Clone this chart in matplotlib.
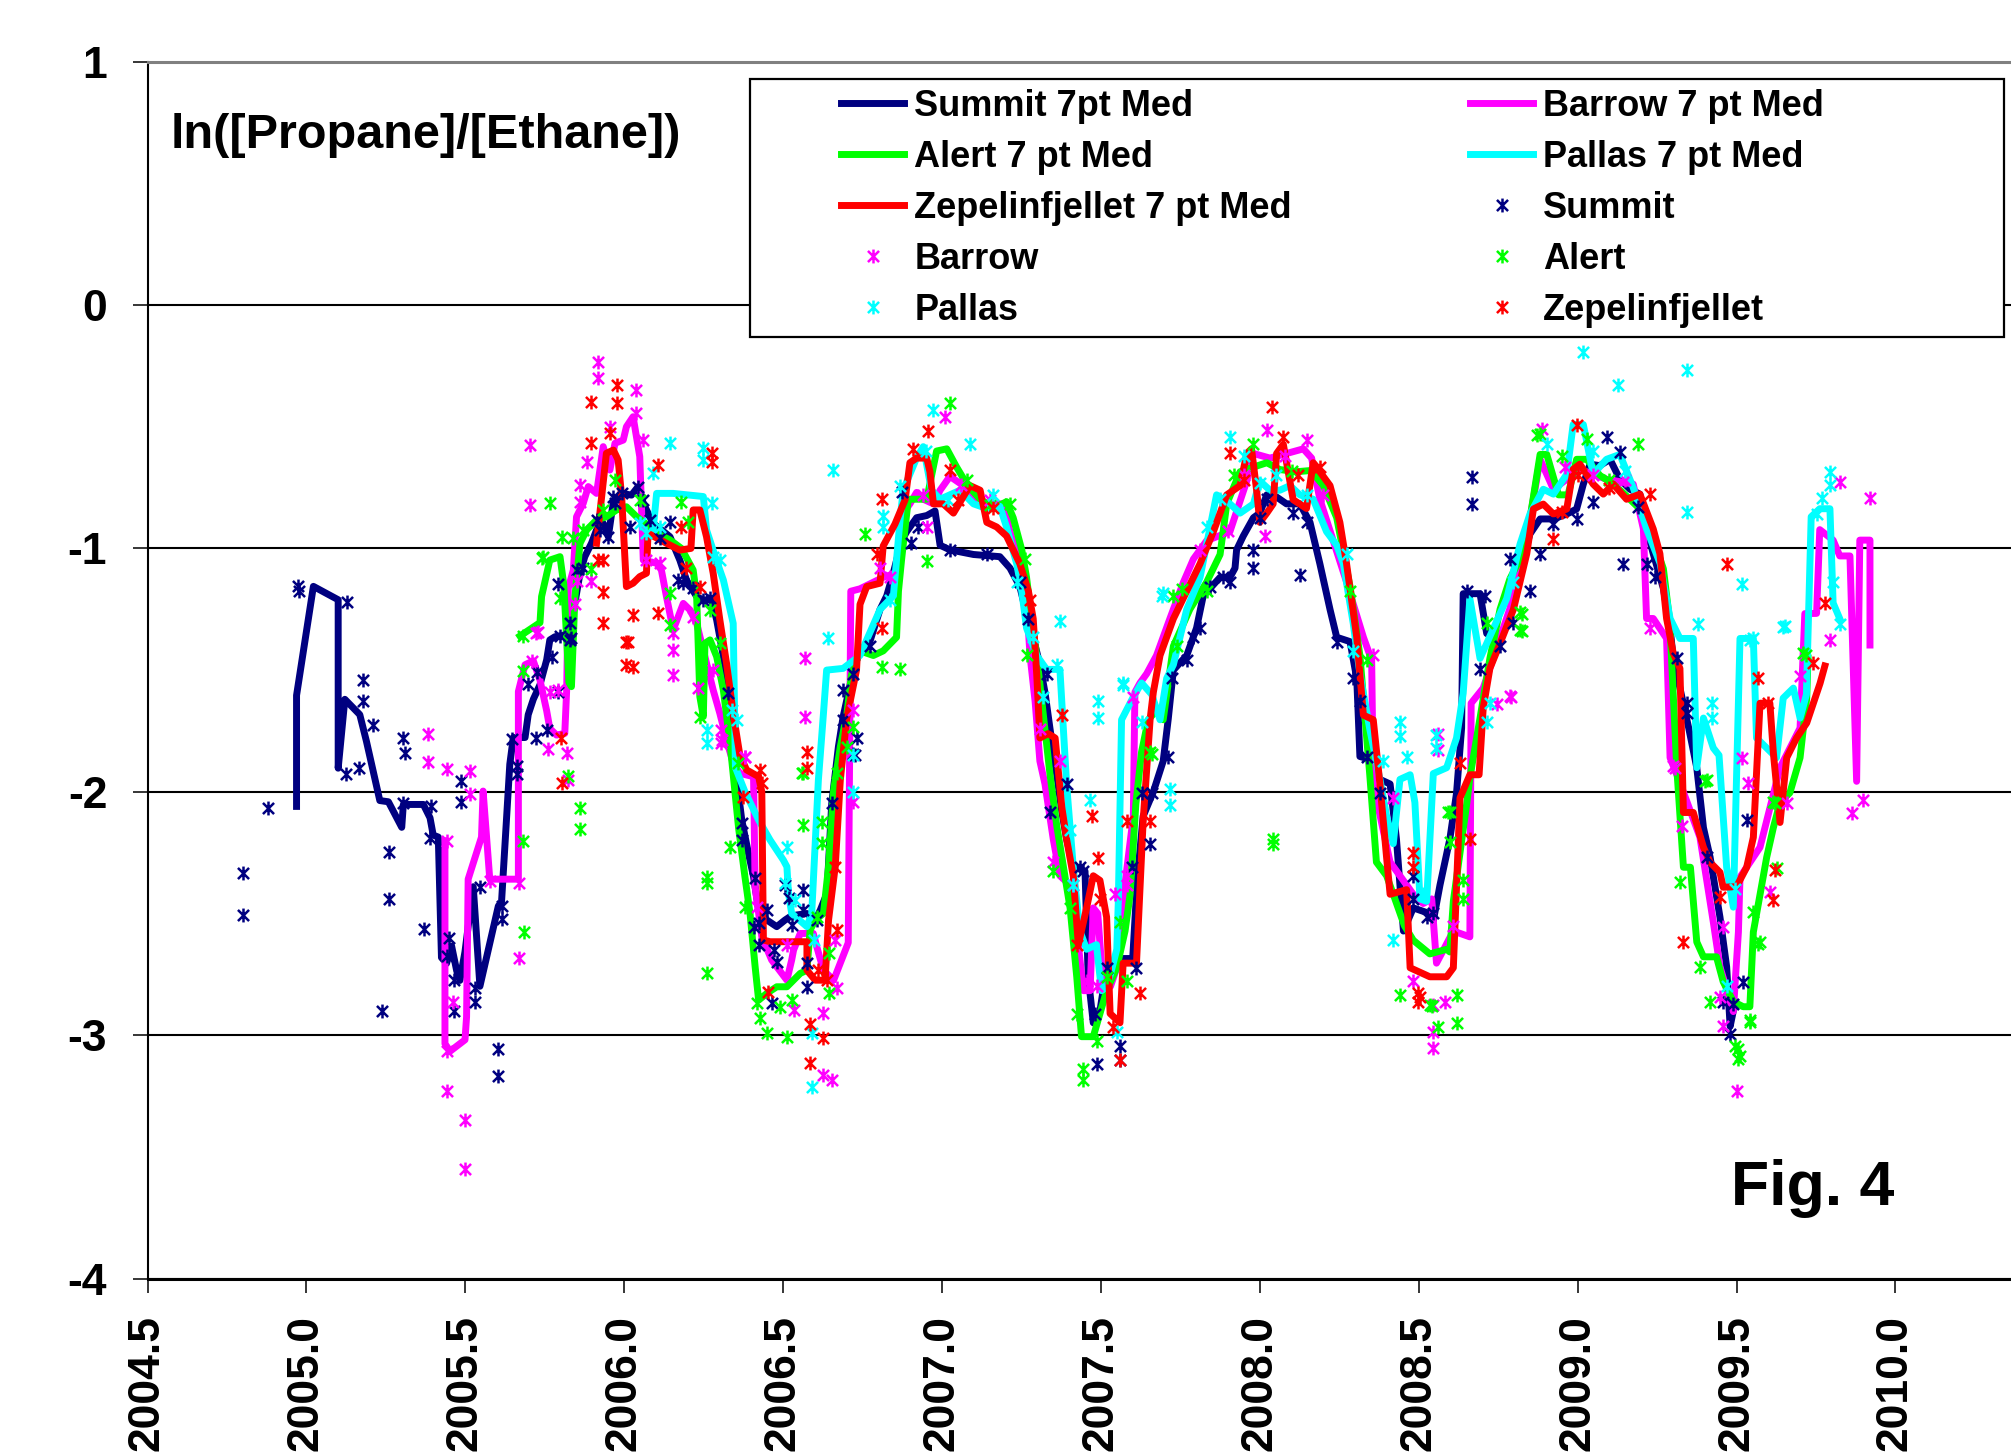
import matplotlib
matplotlib.use('Agg')
import matplotlib.pyplot as plt
from matplotlib.path import Path
from matplotlib.patches import Rectangle

plt.rcParams['font.family'] = ['Liberation Sans', 'DejaVu Sans']
plt.rcParams['font.weight'] = 'bold'
plt.rcParams['axes.unicode_minus'] = False

# ---------------- data: 7-point running medians ----------------
summit_med_x = [2004.969, 2004.969, 2005.022, 2005.100, 2005.100, 2005.121, 2005.168, 2005.189, 2005.231, 2005.258,
                2005.300, 2005.305, 2005.368, 2005.389, 2005.399, 2005.415, 2005.425, 2005.441, 2005.457, 2005.473,
                2005.483, 2005.499, 2005.525, 2005.546, 2005.604, 2005.614, 2005.640, 2005.651, 2005.688, 2005.698,
                2005.714, 2005.735, 2005.756, 2005.766, 2005.782, 2005.813, 2005.834, 2005.850, 2005.861, 2005.876,
                2005.897, 2005.913, 2005.934, 2005.950, 2005.965, 2005.992, 2006.023, 2006.044, 2006.060, 2006.091,
                2006.144, 2006.175, 2006.196, 2006.228, 2006.249, 2006.275, 2006.291, 2006.312, 2006.333, 2006.354,
                2006.370, 2006.391, 2006.407, 2006.423, 2006.449, 2006.480, 2006.506, 2006.522, 2006.543, 2006.575,
                2006.601, 2006.617, 2006.638, 2006.653, 2006.674, 2006.689, 2006.721, 2006.742, 2006.773, 2006.805,
                2006.826, 2006.847, 2006.873, 2006.889, 2006.920, 2006.952, 2006.978, 2006.994, 2007.025, 2007.099,
                2007.182, 2007.214, 2007.245, 2007.266, 2007.287, 2007.308, 2007.324, 2007.340, 2007.361, 2007.377,
                2007.392, 2007.413, 2007.450, 2007.460, 2007.476, 2007.497, 2007.518, 2007.534, 2007.560, 2007.600,
                2007.615, 2007.633, 2007.665, 2007.696, 2007.712, 2007.728, 2007.770, 2007.801, 2007.822, 2007.875,
                2007.906, 2007.922, 2007.927, 2007.948, 2007.980, 2008.000, 2008.022, 2008.053, 2008.084, 2008.126,
                2008.158, 2008.189, 2008.221, 2008.242, 2008.284, 2008.305, 2008.315, 2008.341, 2008.378, 2008.410,
                2008.430, 2008.452, 2008.483, 2008.525, 2008.546, 2008.567, 2008.598, 2008.619, 2008.635, 2008.640,
                2008.693, 2008.714, 2008.756, 2008.787, 2008.819, 2008.850, 2008.882, 2008.924, 2008.966, 2008.997,
                2009.018, 2009.039, 2009.070, 2009.102, 2009.133, 2009.165, 2009.196, 2009.217, 2009.238, 2009.270,
                2009.291, 2009.301, 2009.322, 2009.350, 2009.375, 2009.396, 2009.417, 2009.448, 2009.469, 2009.480,
                2009.490]
summit_med_y = [-2.060, -1.604, -1.156, -1.211, -1.903, -1.620, -1.683, -1.793, -2.036, -2.041,
                -2.146, -2.052, -2.052, -2.107, -2.178, -2.186, -2.681, -2.705, -2.634, -2.736,
                -2.775, -2.657, -2.390, -2.799, -2.469, -2.453, -1.887, -1.777, -1.777, -1.683,
                -1.620, -1.560, -1.458, -1.376, -1.363, -1.356, -1.308, -1.185, -1.102, -1.034,
                -0.979, -0.924, -0.897, -0.952, -0.815, -0.774, -0.781, -0.746, -0.815, -0.897,
                -0.952, -1.048, -1.130, -1.198, -1.212, -1.212, -1.294, -1.445, -1.609, -1.950,
                -2.116, -2.253, -2.349, -2.486, -2.527, -2.554, -2.527, -2.513, -2.506, -2.500,
                -2.527, -2.486, -2.417, -2.048, -1.815, -1.691, -1.500, -1.421, -1.383, -1.251,
                -1.195, -1.100, -0.968, -0.931, -0.874, -0.865, -0.846, -0.987, -1.006, -1.025,
                -1.034, -1.081, -1.157, -1.270, -1.365, -1.478, -1.591, -1.742, -1.930, -2.081,
                -2.194, -2.308, -2.326, -2.760, -2.949, -2.900, -2.723, -2.704, -2.685, -2.685,
                -2.350, -2.100, -2.000, -1.874, -1.700, -1.500, -1.440, -1.327, -1.195, -1.119,
                -1.119, -1.081, -1.006, -0.949, -0.874, -0.855, -0.780, -0.789, -0.817, -0.817,
                -0.893, -1.063, -1.251, -1.365, -1.383, -1.534, -1.855, -1.864, -1.949, -1.968,
                -2.194, -2.572, -2.477, -2.496, -2.530, -2.383, -2.194, -2.006, -1.738, -1.186,
                -1.186, -1.350, -1.370, -1.288, -1.084, -0.941, -0.879, -0.879, -0.859, -0.838,
                -0.736, -0.654, -0.660, -0.634, -0.716, -0.757, -0.777, -0.920, -1.022, -1.165,
                -1.329, -1.452, -1.574, -1.740, -1.901, -2.147, -2.269, -2.515, -2.719, -2.964,
                -2.900]

barrow_med_x = [2005.436, 2005.436, 2005.452, 2005.499, 2005.504, 2005.509, 2005.551, 2005.556, 2005.577, 2005.667,
                2005.667, 2005.688, 2005.714, 2005.735, 2005.756, 2005.766, 2005.787, 2005.813, 2005.819, 2005.824,
                2005.840, 2005.850, 2005.871, 2005.887, 2005.913, 2005.934, 2005.955, 2005.971, 2005.997, 2006.007,
                2006.028, 2006.049, 2006.060, 2006.102, 2006.117, 2006.133, 2006.154, 2006.186, 2006.207, 2006.228,
                2006.259, 2006.280, 2006.301, 2006.322, 2006.343, 2006.364, 2006.407, 2006.412, 2006.433, 2006.464,
                2006.512, 2006.527, 2006.533, 2006.554, 2006.595, 2006.606, 2006.627, 2006.659, 2006.705, 2006.713,
                2006.742, 2006.815, 2006.857, 2006.878, 2006.899, 2006.920, 2006.941, 2006.973, 2006.994, 2007.025,
                2007.067, 2007.109, 2007.151, 2007.193, 2007.214, 2007.245, 2007.266, 2007.277, 2007.293, 2007.308,
                2007.324, 2007.350, 2007.371, 2007.403, 2007.424, 2007.445, 2007.466, 2007.476, 2007.490, 2007.508,
                2007.530, 2007.550, 2007.570, 2007.602, 2007.607, 2007.623, 2007.644, 2007.675, 2007.717, 2007.760,
                2007.791, 2007.833, 2007.906, 2007.959, 2007.980, 2008.032, 2008.084, 2008.137, 2008.163, 2008.189,
                2008.273, 2008.326, 2008.352, 2008.357, 2008.410, 2008.483, 2008.514, 2008.541, 2008.556, 2008.609,
                2008.661, 2008.665, 2008.703, 2008.787, 2008.850, 2008.882, 2008.924, 2009.007, 2009.091, 2009.175,
                2009.207, 2009.217, 2009.238, 2009.280, 2009.291, 2009.322, 2009.385, 2009.427, 2009.448, 2009.490,
                2009.506, 2009.511, 2009.532, 2009.574, 2009.637, 2009.700, 2009.715, 2009.752, 2009.762, 2009.804,
                2009.825, 2009.857, 2009.878, 2009.888, 2009.920, 2009.920]
barrow_med_y = [-2.201, -3.035, -3.066, -3.019, -2.925, -2.359, -2.186, -1.997, -2.359, -2.359,
                -1.588, -1.478, -1.462, -1.541, -1.667, -1.740, -1.767, -1.760, -1.582, -1.164,
                -1.089, -0.870, -0.815, -0.746, -0.774, -0.582, -0.678, -0.568, -0.555, -0.500,
                -0.459, -0.623, -1.048, -1.061, -1.089, -1.198, -1.335, -1.226, -1.253, -1.308,
                -1.472, -1.582, -1.678, -1.787, -1.883, -1.924, -1.938, -2.390, -2.596, -2.691,
                -2.774, -2.691, -2.650, -2.582, -2.582, -2.637, -2.733, -2.774, -2.620, -1.176,
                -1.166, -1.119, -1.100, -0.855, -0.817, -0.770, -0.798, -0.817, -0.761, -0.704,
                -0.742, -0.798, -0.817, -0.817, -0.931, -1.063, -1.214, -1.440, -1.629, -1.874,
                -1.968, -2.194, -2.345, -2.383, -2.572, -2.817, -2.817, -2.477, -2.500, -2.817,
                -2.800, -2.723, -2.440, -2.100, -1.591, -1.553, -1.515, -1.440, -1.289, -1.138,
                -1.044, -0.968, -0.931, -0.723, -0.610, -0.629, -0.610, -0.591, -0.629, -0.798,
                -1.138, -1.365, -1.459, -1.968, -2.289, -2.421, -2.459, -2.440, -2.704, -2.572,
                -2.596, -1.636, -1.574, -1.247, -0.879, -0.634, -0.757, -0.675, -0.716, -0.736,
                -0.920, -1.288, -1.288, -1.370, -1.860, -1.962, -2.187, -2.535, -2.719, -2.903,
                -2.576, -2.351, -2.310, -2.228, -1.901, -1.738, -1.268, -1.267, -0.923, -0.966,
                -1.031, -1.031, -1.957, -0.966, -0.966, -1.397]

alert_med_x = [2005.672, 2005.735, 2005.740, 2005.766, 2005.798, 2005.810, 2005.826, 2005.834, 2005.845, 2005.861,
               2005.882, 2005.913, 2005.944, 2005.976, 2006.007, 2006.039, 2006.070, 2006.102, 2006.144, 2006.180,
               2006.217, 2006.228, 2006.238, 2006.249, 2006.254, 2006.270, 2006.291, 2006.312, 2006.333, 2006.360,
               2006.380, 2006.396, 2006.412, 2006.423, 2006.449, 2006.480, 2006.512, 2006.554, 2006.575, 2006.585,
               2006.601, 2006.627, 2006.643, 2006.659, 2006.680, 2006.701, 2006.715, 2006.742, 2006.784, 2006.815,
               2006.857, 2006.863, 2006.873, 2006.894, 2006.952, 2006.983, 2007.015, 2007.046, 2007.080, 2007.120,
               2007.162, 2007.203, 2007.224, 2007.251, 2007.266, 2007.282, 2007.298, 2007.319, 2007.340, 2007.361,
               2007.382, 2007.403, 2007.424, 2007.439, 2007.476, 2007.497, 2007.518, 2007.550, 2007.576, 2007.592,
               2007.610, 2007.628, 2007.649, 2007.675, 2007.696, 2007.728, 2007.780, 2007.833, 2007.875, 2007.896,
               2007.938, 2007.980, 2008.022, 2008.063, 2008.116, 2008.160, 2008.200, 2008.242, 2008.284, 2008.315,
               2008.346, 2008.367, 2008.399, 2008.420, 2008.455, 2008.483, 2008.535, 2008.588, 2008.598, 2008.609,
               2008.630, 2008.651, 2008.661, 2008.693, 2008.724, 2008.756, 2008.787, 2008.819, 2008.850, 2008.882,
               2008.903, 2008.940, 2008.970, 2008.997, 2009.029, 2009.070, 2009.112, 2009.150, 2009.196, 2009.238,
               2009.270, 2009.290, 2009.312, 2009.333, 2009.355, 2009.375, 2009.396, 2009.437, 2009.458, 2009.490,
               2009.521, 2009.542, 2009.553, 2009.595, 2009.616, 2009.637, 2009.668, 2009.700, 2009.721, 2009.725]
alert_med_y = [-1.360, -1.305, -1.198, -1.048, -1.034, -1.150, -1.550, -1.568, -1.198, -0.979,
               -0.924, -0.883, -0.870, -0.842, -0.829, -0.870, -0.900, -0.938, -0.965, -1.000,
               -1.089, -1.198, -1.609, -1.691, -1.390, -1.376, -1.445, -1.582, -1.800, -2.150,
               -2.350, -2.500, -2.719, -2.856, -2.828, -2.801, -2.801, -2.746, -2.733, -2.568,
               -2.527, -2.500, -2.308, -1.993, -1.815, -1.678, -1.520, -1.421, -1.440, -1.421,
               -1.365, -1.176, -1.044, -0.798, -0.798, -0.600, -0.591, -0.666, -0.740, -0.798,
               -0.836, -0.808, -0.874, -1.006, -1.119, -1.289, -1.440, -1.685, -1.930, -2.138,
               -2.308, -2.477, -2.760, -3.006, -3.006, -2.912, -2.817, -2.723, -2.572, -2.421,
               -2.050, -1.836, -1.704, -1.666, -1.704, -1.402, -1.250, -1.138, -1.025, -0.817,
               -0.685, -0.666, -0.648, -0.676, -0.685, -0.680, -0.742, -0.874, -1.157, -1.440,
               -1.930, -2.289, -2.345, -2.421, -2.550, -2.610, -2.666, -2.647, -2.658, -2.450,
               -2.250, -2.050, -1.942, -1.697, -1.452, -1.250, -1.125, -1.043, -0.879, -0.614,
               -0.614, -0.780, -0.780, -0.634, -0.634, -0.700, -0.736, -0.780, -0.838, -0.961,
               -1.084, -1.300, -1.901, -2.310, -2.310, -2.617, -2.678, -2.678, -2.780, -2.862,
               -2.883, -2.883, -2.576, -2.269, -2.147, -2.044, -2.004, -1.860, -1.615, -1.450]

pallas_med_x = [2006.091, 2006.102, 2006.154, 2006.249, 2006.259, 2006.290, 2006.312, 2006.343, 2006.350, 2006.380,
                2006.423, 2006.459, 2006.501, 2006.512, 2006.517, 2006.527, 2006.575, 2006.590, 2006.611, 2006.627,
                2006.637, 2006.689, 2006.742, 2006.763, 2006.805, 2006.847, 2006.868, 2006.878, 2006.920, 2006.941,
                2006.967, 2006.994, 2007.025, 2007.057, 2007.099, 2007.141, 2007.182, 2007.203, 2007.235, 2007.251,
                2007.266, 2007.298, 2007.329, 2007.371, 2007.392, 2007.413, 2007.434, 2007.455, 2007.486, 2007.502,
                2007.520, 2007.550, 2007.555, 2007.565, 2007.602, 2007.628, 2007.660, 2007.686, 2007.707, 2007.728,
                2007.770, 2007.812, 2007.864, 2007.906, 2007.938, 2007.980, 2008.000, 2008.032, 2008.063, 2008.095,
                2008.126, 2008.168, 2008.210, 2008.242, 2008.263, 2008.294, 2008.315, 2008.346, 2008.378, 2008.399,
                2008.420, 2008.441, 2008.473, 2008.488, 2008.504, 2008.525, 2008.546, 2008.588, 2008.619, 2008.640,
                2008.661, 2008.693, 2008.735, 2008.777, 2008.819, 2008.850, 2008.892, 2008.924, 2008.966, 2008.986,
                2009.018, 2009.049, 2009.091, 2009.133, 2009.175, 2009.217, 2009.260, 2009.291, 2009.322, 2009.364,
                2009.375, 2009.396, 2009.427, 2009.445, 2009.469, 2009.490, 2009.511, 2009.553, 2009.563, 2009.626,
                2009.647, 2009.679, 2009.700, 2009.720, 2009.735, 2009.762, 2009.794, 2009.804, 2009.825]
pallas_med_y = [-0.924, -0.774, -0.774, -0.787, -0.924, -1.048, -1.130, -1.308, -1.900, -2.000,
                -2.116, -2.198, -2.281, -2.308, -2.417, -2.500, -2.554, -2.500, -1.952, -1.678,
                -1.500, -1.493, -1.440, -1.376, -1.251, -1.195, -0.883, -0.760, -0.629, -0.582,
                -0.761, -0.798, -0.780, -0.761, -0.817, -0.836, -0.827, -0.912, -1.063, -1.176,
                -1.327, -1.440, -1.497, -1.497, -1.968, -2.308, -2.572, -2.647, -2.628, -2.817,
                -2.800, -2.647, -2.440, -1.704, -1.610, -1.553, -1.600, -1.704, -1.534, -1.478,
                -1.251, -1.119, -0.780, -0.817, -0.855, -0.817, -0.723, -0.761, -0.761, -0.742,
                -0.780, -0.798, -0.931, -0.987, -1.063, -1.308, -1.515, -1.742, -1.949, -2.100,
                -2.213, -1.949, -1.930, -2.044, -2.440, -2.450, -1.925, -1.901, -1.779, -1.595,
                -1.206, -1.452, -1.329, -1.206, -0.982, -0.859, -0.757, -0.777, -0.695, -0.491,
                -0.491, -0.695, -0.634, -0.614, -0.750, -0.920, -1.063, -1.288, -1.370, -1.370,
                -1.901, -1.697, -1.820, -1.850, -2.310, -2.474, -1.370, -1.370, -1.779, -1.860,
                -1.615, -1.574, -1.697, -1.600, -0.870, -0.837, -0.837, -1.224, -1.289]

zep_med_x = [2005.913, 2005.944, 2005.966, 2005.981, 2005.992, 2006.007, 2006.028, 2006.049, 2006.070, 2006.075,
             2006.133, 2006.175, 2006.210, 2006.217, 2006.238, 2006.259, 2006.280, 2006.301, 2006.322, 2006.343,
             2006.364, 2006.385, 2006.423, 2006.433, 2006.438, 2006.459, 2006.575, 2006.575, 2006.601, 2006.632,
             2006.643, 2006.664, 2006.680, 2006.700, 2006.731, 2006.742, 2006.763, 2006.805, 2006.815, 2006.852,
             2006.884, 2006.899, 2006.920, 2006.952, 2006.962, 2006.973, 2007.004, 2007.036, 2007.088, 2007.120,
             2007.141, 2007.172, 2007.203, 2007.245, 2007.272, 2007.287, 2007.298, 2007.308, 2007.334, 2007.356,
             2007.377, 2007.392, 2007.413, 2007.429, 2007.455, 2007.476, 2007.497, 2007.518, 2007.529, 2007.560,
             2007.570, 2007.612, 2007.633, 2007.655, 2007.665, 2007.686, 2007.728, 2007.770, 2007.812, 2007.854,
             2007.896, 2007.938, 2007.959, 2007.974, 2007.990, 2008.000, 2008.022, 2008.042, 2008.053, 2008.074,
             2008.105, 2008.147, 2008.168, 2008.189, 2008.221, 2008.252, 2008.273, 2008.305, 2008.326, 2008.357,
             2008.378, 2008.399, 2008.410, 2008.462, 2008.473, 2008.535, 2008.588, 2008.609, 2008.630, 2008.661,
             2008.690, 2008.703, 2008.724, 2008.756, 2008.798, 2008.840, 2008.861, 2008.892, 2008.924, 2008.966,
             2008.986, 2009.007, 2009.049, 2009.081, 2009.112, 2009.154, 2009.196, 2009.238, 2009.259, 2009.280,
             2009.301, 2009.322, 2009.333, 2009.364, 2009.396, 2009.417, 2009.448, 2009.458, 2009.500, 2009.532,
             2009.553, 2009.574, 2009.605, 2009.616, 2009.637, 2009.658, 2009.689, 2009.721, 2009.763, 2009.778]
zep_med_y = [-0.979, -0.609, -0.596, -0.637, -0.787, -1.157, -1.143, -1.116, -1.102, -0.938,
             -0.979, -1.007, -1.000, -0.842, -0.842, -0.952, -1.102, -1.294, -1.472, -1.678,
             -1.850, -1.910, -1.938, -2.000, -2.609, -2.616, -2.616, -2.733, -2.774, -2.774,
             -2.527, -2.308, -1.952, -1.700, -1.500, -1.230, -1.157, -1.143, -0.990, -0.900,
             -0.800, -0.648, -0.629, -0.629, -0.685, -0.817, -0.817, -0.855, -0.742, -0.761,
             -0.893, -0.912, -0.949, -1.063, -1.176, -1.289, -1.516, -1.779, -1.761, -1.779,
             -2.063, -2.194, -2.345, -2.628, -2.477, -2.345, -2.364, -2.515, -2.911, -2.949,
             -2.704, -2.704, -2.119, -1.700, -1.591, -1.440, -1.289, -1.176, -1.063, -0.931,
             -0.780, -0.742, -0.610, -0.591, -0.761, -0.893, -0.855, -0.817, -0.610, -0.572,
             -0.800, -0.836, -0.648, -0.685, -0.742, -0.893, -1.063, -1.365, -1.685, -1.704,
             -1.968, -2.270, -2.421, -2.402, -2.723, -2.760, -2.760, -2.723, -2.025, -1.930,
             -1.930, -1.656, -1.493, -1.390, -1.251, -1.022, -0.838, -0.818, -0.859, -0.838,
             -0.675, -0.654, -0.736, -0.777, -0.736, -0.798, -0.777, -0.920, -1.022, -1.288,
             -1.431, -1.493, -2.085, -2.085, -2.228, -2.290, -2.331, -2.392, -2.390, -2.310,
             -2.187, -1.636, -1.636, -1.840, -2.126, -1.860, -1.779, -1.717, -1.554, -1.483]

# ---------------- data: individual samples ----------------
summit_x = [2004.799, 2004.799, 2004.878, 2004.974, 2004.978, 2005.129, 2005.126, 2005.165, 2005.179, 2005.179,
            2005.208, 2005.238, 2005.260, 2005.260, 2005.305, 2005.311, 2005.305, 2005.370, 2005.392, 2005.389,
            2005.486, 2005.486, 2005.450, 2005.441, 2005.464, 2005.464, 2005.531, 2005.531, 2005.546, 2005.604,
            2005.604, 2005.617, 2005.617, 2005.646, 2005.664, 2005.664, 2005.698, 2005.726, 2005.724, 2005.758,
            2005.772, 2005.798, 2005.829, 2005.792, 2005.829, 2005.792, 2005.834, 2005.850, 2005.871, 2005.913,
            2005.923, 2005.950, 2005.965, 2005.971, 2005.992, 2006.018, 2006.044, 2006.060, 2006.081, 2006.112,
            2006.144, 2006.170, 2006.186, 2006.217, 2006.249, 2006.270, 2006.327, 2006.370, 2006.370, 2006.412,
            2006.407, 2006.423, 2006.449, 2006.423, 2006.470, 2006.480, 2006.464, 2006.506, 2006.517, 2006.564,
            2006.564, 2006.527, 2006.575, 2006.575, 2006.606, 2006.653, 2006.690, 2006.732, 2006.727, 2006.690,
            2006.721, 2006.721, 2006.773, 2006.873, 2006.904, 2006.925, 2007.025, 2007.141, 2007.245, 2007.272,
            2007.329, 2007.340, 2007.392, 2007.434, 2007.445, 2007.481, 2007.487, 2007.518, 2007.560, 2007.560,
            2007.597, 2007.628, 2007.655, 2007.712, 2007.723, 2007.770, 2007.791, 2007.812, 2007.885, 2007.906,
            2007.612, 2007.660, 2007.843, 2007.980, 2007.980, 2008.000, 2008.022, 2008.105, 2008.126, 2008.147,
            2008.242, 2008.294, 2008.315, 2008.336, 2008.378, 2008.483, 2008.483, 2008.525, 2008.546, 2008.667,
            2008.667, 2008.651, 2008.708, 2008.693, 2008.756, 2008.787, 2008.798, 2008.850, 2008.882, 2008.924,
            2008.997, 2009.049, 2009.091, 2009.133, 2009.144, 2009.191, 2009.217, 2009.243, 2009.312, 2009.343,
            2009.343, 2009.406, 2009.458, 2009.480, 2009.521, 2009.532, 2009.490]
summit_y = [-2.335, -2.508, -2.068, -1.156, -1.175, -1.219, -1.926, -1.903, -1.541, -1.628,
            -1.725, -2.901, -2.249, -2.440, -1.780, -1.840, -2.047, -2.563, -2.057, -2.189,
            -1.955, -2.040, -2.602, -2.673, -2.775, -2.901, -2.807, -2.862, -2.390, -3.058,
            -3.168, -2.469, -2.524, -1.785, -1.895, -1.926, -1.557, -1.507, -1.777, -1.745,
            -1.447, -1.360, -1.305, -1.148, -1.376, -1.588, -1.369, -1.089, -1.082, -0.883,
            -0.924, -0.952, -0.787, -0.815, -0.774, -0.911, -0.746, -0.801, -0.883, -0.958,
            -0.890, -1.130, -1.143, -1.164, -1.212, -1.205, -1.595, -2.130, -2.198, -2.356,
            -2.554, -2.541, -2.486, -2.630, -2.650, -2.698, -2.869, -2.383, -2.438, -2.404,
            -2.486, -2.548, -2.705, -2.801, -2.527, -2.048, -1.705, -1.781, -1.849, -1.582,
            -1.515, -1.845, -1.402, -0.770, -0.978, -0.912, -1.006, -1.025, -1.138, -1.289,
            -1.515, -2.081, -1.968, -2.308, -2.326, -2.911, -3.119, -2.723, -3.043, -3.100,
            -2.308, -2.006, -2.213, -1.855, -1.534, -1.459, -1.365, -1.327, -1.119, -1.138,
            -2.723, -2.006, -1.157, -1.006, -1.081, -0.874, -0.799, -0.855, -1.110, -0.893,
            -1.383, -1.534, -1.629, -1.855, -2.006, -2.345, -2.440, -2.515, -2.496, -0.705,
            -0.818, -1.176, -1.195, -1.497, -1.402, -1.044, -1.308, -1.176, -1.022, -0.900,
            -0.879, -0.808, -0.542, -0.603, -1.063, -0.828, -1.063, -1.117, -1.452, -1.636,
            -1.677, -2.269, -2.862, -2.995, -2.780, -2.116, -2.872]

barrow_x = [2005.383, 2005.383, 2005.441, 2005.515, 2005.515, 2005.441, 2005.460, 2005.441, 2005.441, 2005.499,
            2005.500, 2005.577, 2005.670, 2005.670, 2005.730, 2005.709, 2005.766, 2005.792, 2005.761, 2005.821,
            2005.824, 2005.845, 2005.850, 2005.897, 2005.703, 2005.703, 2005.861, 2005.882, 2005.918, 2005.918,
            2005.955, 2006.036, 2006.036, 2006.060, 2005.861, 2005.724, 2006.070, 2006.112, 2006.154, 2006.154,
            2006.154, 2006.217, 2006.233, 2006.280, 2006.306, 2006.306, 2006.569, 2006.569, 2006.380, 2006.307,
            2006.381, 2006.417, 2006.512, 2006.533, 2006.627, 2006.627, 2006.653, 2006.664, 2006.669, 2006.721,
            2006.721, 2006.805, 2006.836, 2006.952, 2007.009, 2007.308, 2007.350, 2007.371, 2007.413, 2007.455,
            2007.487, 2007.545, 2007.581, 2007.602, 2007.581, 2007.812, 2008.022, 2008.016, 2008.147, 2008.357,
            2008.420, 2008.483, 2008.546, 2008.546, 2008.546, 2008.562, 2008.562, 2008.609, 2008.745, 2008.792,
            2008.583, 2008.787, 2008.887, 2008.960, 2009.228, 2009.306, 2009.458, 2009.448, 2009.458, 2009.500,
            2009.516, 2009.537, 2009.606, 2009.700, 2009.658, 2009.825, 2009.920, 2009.794, 2009.862, 2009.899,
            2009.327, 2009.301, 2006.940, 2007.060, 2007.150, 2007.900, 2007.950, 2008.080, 2008.200, 2009.050,
            2009.150]
barrow_y = [-1.764, -1.876, -1.906, -1.915, -2.010, -2.201, -2.862, -3.066, -3.231, -3.349,
            -3.550, -2.366, -2.374, -2.681, -1.345, -1.462, -1.588, -1.580, -1.824, -1.840,
            -1.950, -1.227, -1.132, -1.132, -0.575, -0.822, -0.740, -0.644, -0.233, -0.301,
            -0.500, -0.349, -0.445, -0.555, -0.808, -1.349, -1.048, -1.061, -1.349, -1.417,
            -1.520, -1.280, -1.575, -1.500, -1.746, -1.801, -1.452, -1.691, -1.856, -1.787,
            -1.856, -2.472, -2.630, -2.897, -2.910, -3.164, -3.184, -2.609, -2.808, -1.664,
            -2.041, -1.081, -1.119, -0.912, -0.459, -1.742, -2.289, -1.874, -2.383, -2.779,
            -2.798, -2.421, -2.345, -1.610, -2.383, -1.006, -0.515, -0.949, -0.553, -1.440,
            -2.025, -2.779, -2.874, -2.987, -3.053, -1.761, -1.827, -2.553, -1.638, -1.610,
            -2.862, -1.605, -0.511, -0.665, -1.329, -1.901, -2.555, -2.842, -2.964, -3.230,
            -1.860, -1.963, -2.412, -1.523, -2.044, -0.729, -0.794, -1.375, -2.086, -2.032,
            -2.140, -1.892, -0.780, -0.740, -0.800, -0.930, -0.700, -0.620, -0.780, -0.700,
            -0.720]

alert_x = [2005.682, 2005.682, 2005.682, 2005.684, 2005.740, 2005.798, 2005.824, 2005.861, 2005.861, 2005.897,
           2005.745, 2005.766, 2005.803, 2005.840, 2005.871, 2005.934, 2005.971, 2006.049, 2006.180, 2006.201,
           2006.144, 2006.144, 2006.270, 2006.238, 2006.301, 2006.359, 2006.563, 2006.260, 2006.260, 2006.260,
           2006.333, 2006.381, 2006.428, 2006.449, 2006.512, 2006.491, 2006.527, 2006.559, 2006.564, 2006.622,
           2006.622, 2006.643, 2006.643, 2006.669, 2006.700, 2006.721, 2006.606, 2006.417, 2006.758, 2006.810,
           2006.868, 2007.025, 2006.952, 2007.214, 2007.261, 2007.266, 2007.350, 2007.403, 2007.445, 2007.445,
           2007.424, 2007.487, 2007.518, 2007.560, 2007.581, 2007.660, 2007.728, 2007.833, 2007.654, 2007.738,
           2007.754, 2007.980, 2008.042, 2008.042, 2008.284, 2008.336, 2008.441, 2008.535, 2008.562, 2008.619,
           2008.619, 2008.640, 2008.640, 2008.593, 2008.714, 2008.819, 2008.819, 2008.871, 2008.541, 2008.598,
           2008.598, 2008.824, 2008.824, 2008.882, 2009.191, 2009.029, 2009.322, 2009.385, 2009.417, 2009.495,
           2009.511, 2009.542, 2009.574, 2009.553, 2009.621, 2009.710, 2009.406, 2009.400, 2009.542, 2009.505,
           2009.505, 2009.568, 2009.616, 2009.626, 2009.720, 2007.080, 2007.150, 2007.920, 2008.100, 2008.950,
           2009.100]
alert_y = [-1.360, -1.502, -2.201, -2.574, -1.038, -1.203, -1.934, -2.068, -2.154, -1.085,
           -1.034, -0.815, -0.952, -0.958, -0.924, -0.842, -0.719, -0.801, -0.808, -0.890,
           -1.185, -1.315, -1.253, -1.691, -1.390, -1.883, -1.924, -2.349, -2.376, -2.746,
           -2.226, -2.472, -2.931, -2.993, -3.006, -2.883, -2.856, -1.924, -2.137, -2.123,
           -2.212, -2.664, -2.828, -1.924, -1.815, -1.733, -2.513, -2.869, -0.940, -1.487,
           -1.497, -0.402, -1.053, -0.817, -1.044, -1.440, -2.326, -2.477, -3.138, -3.185,
           -2.911, -3.025, -2.760, -2.534, -2.779, -1.845, -1.195, -1.176, -1.836, -1.402,
           -1.166, -0.572, -2.213, -2.194, -1.176, -1.459, -2.836, -2.874, -2.968, -2.949,
           -2.836, -2.440, -2.364, -2.081, -1.308, -1.261, -1.336, -0.534, -2.882, -2.085,
           -2.208, -1.268, -1.339, -0.532, -0.573, -0.552, -2.372, -2.719, -2.862, -3.046,
           -3.087, -2.944, -2.617, -2.494, -2.044, -1.431, -1.952, -1.957, -2.936, -3.055,
           -3.098, -2.624, -2.043, -2.312, -1.440, -0.720, -0.820, -0.700, -0.680, -0.620,
           -0.720]

pallas_x = [2006.144, 2006.249, 2006.249, 2006.275, 2006.091, 2006.049, 2006.070, 2006.112, 2006.280, 2006.301,
            2006.259, 2006.259, 2006.338, 2006.354, 2006.642, 2006.658, 2006.512, 2006.506, 2006.538, 2006.590,
            2006.590, 2006.596, 2006.721, 2006.721, 2006.815, 2006.815, 2006.836, 2006.868, 2006.973, 2007.088,
            2007.162, 2007.235, 2007.287, 2007.319, 2007.361, 2007.371, 2007.403, 2007.413, 2007.466, 2007.492,
            2007.492, 2007.550, 2007.571, 2007.628, 2007.717, 2007.717, 2007.691, 2007.833, 2007.906, 2007.875,
            2007.570, 2007.696, 2008.000, 2008.273, 2008.294, 2008.389, 2008.441, 2008.441, 2008.462, 2008.420,
            2008.514, 2008.714, 2008.798, 2009.018, 2009.128, 2009.343, 2009.343, 2009.516, 2009.380, 2009.422,
            2009.422, 2009.553, 2009.653, 2008.556, 2008.556, 2008.724, 2008.903, 2009.752, 2009.647, 2009.794,
            2009.794, 2009.768, 2009.825, 2009.804, 2009.495, 2009.469, 2009.542, 2007.950, 2008.050, 2008.150,
            2009.050, 2009.150, 2006.950, 2007.020]
pallas_y = [-0.568, -0.589, -0.637, -0.815, -0.692, -0.897, -0.938, -0.911, -1.034, -1.048,
            -1.746, -1.801, -1.664, -1.705, -1.369, -0.678, -2.226, -2.376, -2.445, -2.993,
            -3.212, -2.609, -2.000, -1.849, -0.865, -0.912, -1.214, -0.742, -0.431, -0.572,
            -0.780, -1.138, -1.365, -1.610, -1.478, -1.298, -2.157, -2.383, -2.034, -1.628,
            -1.695, -2.987, -1.553, -1.713, -1.987, -2.053, -1.195, -0.912, -0.544, -0.798,
            -1.563, -1.185, -0.732, -1.025, -1.421, -1.874, -1.714, -1.770, -1.855, -2.610,
            -2.421, -1.714, -1.138, -0.194, -0.327, -0.266, -0.849, -1.145, -1.309, -1.636,
            -1.697, -1.370, -1.319, -1.768, -1.820, -1.636, -0.573, -0.859, -1.321, -0.686,
            -0.740, -0.794, -1.311, -1.138, -2.398, -2.796, -1.375, -0.620, -0.700, -0.780,
            -0.600, -0.680, -0.600, -0.800]

zep_x = [2005.803, 2005.800, 2005.932, 2005.932, 2005.932, 2006.007, 2006.007, 2005.897, 2005.897, 2005.955,
         2005.976, 2005.976, 2005.918, 2006.028, 2006.013, 2006.028, 2006.107, 2006.107, 2006.180, 2006.275,
         2006.275, 2006.196, 2006.238, 2006.574, 2006.574, 2006.374, 2006.427, 2006.433, 2006.454, 2006.585,
         2006.585, 2006.627, 2006.611, 2006.638, 2006.664, 2006.669, 2006.810, 2006.810, 2006.794, 2006.910,
         2006.957, 2007.025, 2007.162, 2007.277, 2007.377, 2007.424, 2007.471, 2007.492, 2007.497, 2007.539,
         2007.560, 2007.623, 2007.581, 2007.655, 2007.906, 2008.037, 2008.074, 2008.189, 2008.483, 2008.483,
         2008.499, 2008.499, 2008.630, 2008.661, 2008.504, 2008.997, 2008.924, 2009.228, 2009.469, 2009.333,
         2009.569, 2009.616, 2009.621, 2009.448, 2009.600, 2009.778, 2009.741, 2007.050, 2007.950, 2008.120,
         2009.000, 2009.100, 2008.950]
zep_y = [-1.965, -1.777, -1.046, -1.180, -1.305, -1.384, -1.478, -0.397, -0.568, -0.527,
         -0.329, -0.404, -1.048, -1.274, -1.383, -1.486, -0.657, -1.267, -0.911, -0.609,
         -0.644, -1.082, -1.157, -1.835, -1.904, -2.020, -1.910, -1.965, -2.822, -2.952,
         -3.116, -3.013, -2.733, -2.774, -2.308, -2.568, -0.798, -1.327, -1.025, -0.591,
         -0.516, -0.676, -0.836, -1.214, -1.685, -2.628, -2.100, -2.270, -2.440, -2.968,
         -3.100, -2.826, -2.119, -2.119, -0.610, -0.421, -0.544, -0.666, -2.251, -2.308,
         -2.826, -2.864, -1.883, -2.194, -2.842, -0.491, -0.961, -0.777, -1.063, -2.617,
         -1.534, -2.443, -2.320, -2.433, -1.634, -1.224, -1.472, -0.800, -0.720, -0.700,
         -0.700, -0.750, -0.850]

series_colors = ['#000080', '#FF00FF', '#00FF00', '#00FFFF', '#FF0000']
med_labels = ['Summit 7pt Med', 'Barrow 7 pt Med', 'Alert 7 pt Med', 'Pallas 7 pt Med', 'Zepelinfjellet 7 pt Med']
pt_labels = ['Summit', 'Barrow', 'Alert', 'Pallas', 'Zepelinfjellet']
x_ticks = [2004.5, 2005.0, 2005.5, 2006.0, 2006.5, 2007.0, 2007.5, 2008.0, 2008.5, 2009.0, 2009.5, 2010.0]
y_ticks = [-4, -3, -2, -1, 0, 1]

# ---------------- figure ----------------
W, H = 2011, 1453
fig = plt.figure(figsize=(W / 100, H / 100), dpi=100)
fig.patch.set_facecolor('white')
ax = fig.add_axes([147.5 / W, 174.4 / H, (2054.3 - 147.5) / W, (1391.4 - 174.4) / H])
ax.set_xlim(2004.5, 2010.5)
ax.set_ylim(-4, 1)

star = Path([(-0.8, -0.8), (0.8, 0.8), (-0.8, 0.8), (0.8, -0.8), (0, -1), (0, 1)],
            [Path.MOVETO, Path.LINETO, Path.MOVETO, Path.LINETO, Path.MOVETO, Path.LINETO])

med_data = [(summit_med_x, summit_med_y), (barrow_med_x, barrow_med_y), (alert_med_x, alert_med_y),
            (pallas_med_x, pallas_med_y), (zep_med_x, zep_med_y)]
pt_data = [(summit_x, summit_y), (barrow_x, barrow_y), (alert_x, alert_y),
           (pallas_x, pallas_y), (zep_x, zep_y)]

med_handles = []
for (xs, ys), c, lab in zip(med_data, series_colors, med_labels):
    h, = ax.plot(xs, ys, color=c, lw=5.0, label=lab, zorder=2, solid_joinstyle='round')
    med_handles.append(h)
pt_handles = []
for (xs, ys), c, lab in zip(pt_data, series_colors, pt_labels):
    h, = ax.plot(xs, ys, linestyle='none', marker=star, ms=10, mew=1.8, mec=c, mfc='none',
                 label=lab, zorder=3)
    pt_handles.append(h)

# axes styling
ax.set_xticks(x_ticks)
ax.set_xticklabels(['%.1f' % v for v in x_ticks], rotation=90)
ax.set_yticks(y_ticks)
ax.set_yticklabels([str(v) for v in y_ticks])
ax.tick_params(axis='x', direction='out', length=10, width=1.1, pad=16, labelsize=32)
ax.tick_params(axis='y', direction='out', length=11, width=1.1, pad=18, labelsize=32)
ax.grid(axis='y', color='black', lw=1.5)
ax.set_axisbelow(True)
ax.spines['left'].set_linewidth(1.5)
ax.spines['bottom'].set_linewidth(2.2)
ax.spines['top'].set_color('#808080')
ax.spines['top'].set_linewidth(2.2)
ax.spines['right'].set_visible(False)

fig.text(171 / W, 1 - 148 / H, 'ln([Propane]/[Ethane])', fontsize=35, fontweight='bold', va='baseline')
fig.text(1731 / W, 1 - 1205.5 / H, 'Fig. 4', fontsize=45, fontweight='bold', va='baseline')

# legend (row-major like the original: fill column-wise)
order = [med_handles[0], med_handles[2], med_handles[4], pt_handles[1], pt_handles[3],
         med_handles[1], med_handles[3], pt_handles[0], pt_handles[2], pt_handles[4]]
frame = Rectangle((750 / W, 1 - 337 / H), (2004 - 750) / W, (337 - 79) / H, transform=fig.transFigure,
                  facecolor='white', edgecolor='black', lw=1.6, zorder=4)
fig.patches.append(frame)
leg = fig.legend(order, [h.get_label() for h in order], ncol=2, loc='upper left',
                 bbox_to_anchor=(841 / W, 1 - 89 / H), bbox_transform=fig.transFigure,
                 frameon=False, prop={'weight': 'bold', 'size': 26}, handlelength=1.75,
                 handletextpad=0.28, columnspacing=4.93, labelspacing=0.44,
                 borderpad=0, borderaxespad=0)
leg.set_zorder(5)

fig.savefig('out.png', dpi=100, facecolor='white')
